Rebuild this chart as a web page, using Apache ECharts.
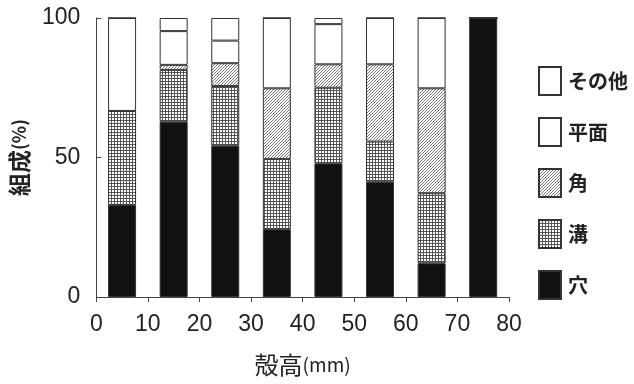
<!DOCTYPE html>
<html>
<head>
<meta charset="utf-8">
<script src="https://cdn.jsdelivr.net/npm/echarts@6/dist/echarts.min.js"></script>
<style>
html,body{margin:0;padding:0;background:#fff;}
#c{width:634px;height:384px;}
</style>
</head>
<body>
<div id="c"></div>
<script>
// Data
var classes = ['0-10', '10-20', '20-30', '30-40', '40-50', '50-60', '60-70', '70-80']; // shell height classes (mm)
var xTicks = [0, 10, 20, 30, 40, 50, 60, 70, 80];
var yTicks = [0, 50, 100];
var ana    = [33.0, 62.8, 54.2, 24.3, 47.9, 41.3, 12.1, 100]; // 穴
var mizo   = [33.7, 18.6, 21.4, 25.2, 27.1, 14.4, 25.1, 0];   // 溝
var kado   = [0, 1.8, 8.2, 25.3, 8.4, 27.7, 37.6, 0];         // 角
var heimen = [33.3, 12.1, 8.1, 25.2, 14.4, 16.6, 25.2, 0];    // 平面
var sonota = [0, 4.7, 8.1, 0, 2.2, 0, 0, 0];                  // その他
var names = ['穴', '溝', '角', '平面', 'その他'];

function makeTile(w, h, draw) {
  var c = document.createElement('canvas');
  c.width = w; c.height = h;
  var ctx = c.getContext('2d');
  ctx.fillStyle = '#fff';
  ctx.fillRect(0, 0, w, h);
  draw(ctx);
  return c;
}
var gridTile = makeTile(3, 3, function (ctx) {
  ctx.fillStyle = '#555';
  ctx.fillRect(0, 0, 3, 1);
  ctx.fillRect(0, 0, 1, 3);
});
var hatchTile = makeTile(3, 3, function (ctx) {
  ctx.fillStyle = '#777';
  ctx.fillRect(2, 0, 1, 1);
  ctx.fillRect(1, 1, 1, 1);
  ctx.fillRect(0, 2, 1, 1);
});

var fills = [
  '#111',
  { image: gridTile, repeat: 'repeat' },
  { image: hatchTile, repeat: 'repeat' },
  '#fff',
  '#fff'
];
var values = [ana, mizo, kado, heimen, sonota];

var series = names.map(function (n, k) {
  return {
    name: n,
    type: 'bar',
    stack: 'all',
    xAxisIndex: 0,
    barWidth: 28,
    data: values[k],
    itemStyle: {
      color: fills[k],
      borderColor: '#333',
      borderWidth: 1
    },
    emphasis: { disabled: true }
  };
});

var chart = echarts.init(document.getElementById('c'), null, { renderer: 'canvas' });
chart.setOption({
  animation: false,
  backgroundColor: '#fff',
  grid: { left: 88, right: 125, top: 18, bottom: 87, containLabel: false },
  legend: {
    orient: 'vertical',
    left: 533,
    top: 61,
    icon: 'rect',
    itemWidth: 22,
    itemHeight: 28,
    itemGap: 21,
    data: ['その他', '平面', '角', '溝', '穴'],
    textStyle: { fontFamily: 'Noto Sans CJK JP', fontSize: 20, fontWeight: 'bold', color: '#222', padding: [0, 0, 0, 2] },
    selectedMode: false
  },
  xAxis: [{
    type: 'category',
    data: classes,
    boundaryGap: true,
    show: false
  }, {
    type: 'value',
    position: 'bottom',
    min: xTicks[0],
    max: xTicks[xTicks.length - 1],
    interval: 10,
    name: '殻高{s|(mm)}',
    nameLocation: 'middle',
    nameGap: 56,
    nameTextStyle: {
      fontFamily: 'Noto Sans CJK JP', fontSize: 24, color: '#222',
      rich: { s: { fontFamily: 'Noto Sans CJK JP', fontSize: 19, color: '#222' } }
    },
    axisLine: { show: true, lineStyle: { color: '#444', width: 1 } },
    axisTick: { show: true, inside: false, length: 5, lineStyle: { color: '#444' } },
    axisLabel: { fontFamily: 'Liberation Sans', fontSize: 23, color: '#222', margin: 16 },
    splitLine: { show: false }
  }],
  yAxis: {
    type: 'value',
    min: yTicks[0],
    max: yTicks[yTicks.length - 1],
    interval: 50,
    name: '組成{s|(%)}',
    nameLocation: 'middle',
    nameGap: 60,
    nameTextStyle: {
      fontFamily: 'Noto Sans CJK JP', fontSize: 23, fontWeight: 'bold', color: '#222',
      rich: { s: { fontFamily: 'Noto Sans CJK JP', fontSize: 18, color: '#222' } }
    },
    axisLine: { show: true, lineStyle: { color: '#444', width: 1 } },
    axisTick: { show: true, inside: true, length: 5, lineStyle: { color: '#444' } },
    axisLabel: { fontFamily: 'Liberation Sans', fontSize: 23, color: '#222', margin: 16 },
    splitLine: { show: false }
  },
  series: series
});
</script>
</body>
</html>
